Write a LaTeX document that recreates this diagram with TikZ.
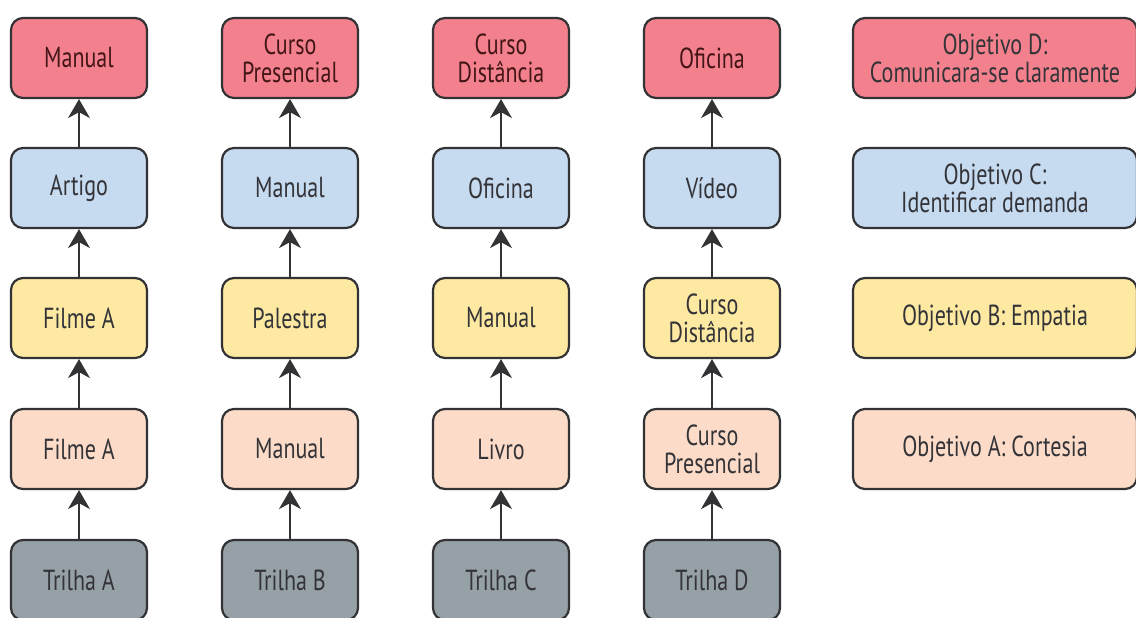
\documentclass[tikz,border=0pt]{standalone}
\usepackage{fontspec}
\setmainfont{PT Sans}[FakeStretch=0.76]
\usepackage{tikz}
\usetikzlibrary{arrows.meta}

\definecolor{redfill}{HTML}{F2818D}
\definecolor{bluefill}{HTML}{C6DAF0}
\definecolor{yellowfill}{HTML}{FDE9A2}
\definecolor{peachfill}{HTML}{FCDCC8}
\definecolor{grayfill}{HTML}{95A0A7}
\definecolor{edge}{HTML}{333336}
\definecolor{ink}{HTML}{333338}

\begin{document}
\begin{tikzpicture}[x=0.5pt,y=-0.5pt,
    box/.style={draw=edge,line width=1.1pt,rounded corners=6pt,
      minimum width=68pt,minimum height=40pt,inner sep=1pt,
      align=center,text=ink,font=\fontsize{14.5}{14}\selectfont},
    goalbox/.style={box,minimum width=142pt},
    redbox/.style={box,fill=redfill,text=ink!70!red!60!black},
    bluebox/.style={box,fill=bluefill},
    yellowbox/.style={box,fill=yellowfill},
    peachbox/.style={box,fill=peachfill},
    graybox/.style={box,fill=grayfill},
    up/.style={-{Stealth[length=9.5pt,width=11pt,inset=3pt]},draw=edge,line width=0.9pt}]
            \useasboundingbox (0,0) rectangle (1136,617);
            % trilha A
            \node (a0) at (79,580) [graybox] {Trilha A};
            \node (a1) at (79,449) [peachbox] {Filme A};
            \node (a2) at (79,318) [yellowbox] {Filme A};
            \node (a3) at (79,188) [bluebox] {Artigo};
            \node (a4) at (79,58) [redbox] {Manual};
            % trilha B
            \node (b0) at (290,580) [graybox] {Trilha B};
            \node (b1) at (290,449) [peachbox] {Manual};
            \node (b2) at (290,318) [yellowbox] {Palestra};
            \node (b3) at (290,188) [bluebox] {Manual};
            \node (b4) at (290,58) [redbox] {Curso\\Presencial};
            % trilha C
            \node (c0) at (501,580) [graybox] {Trilha C};
            \node (c1) at (501,449) [peachbox] {Livro};
            \node (c2) at (501,318) [yellowbox] {Manual};
            \node (c3) at (501,188) [bluebox] {Oficina};
            \node (c4) at (501,58) [redbox] {Curso\\Distância};
            % trilha D
            \node (d0) at (712,580) [graybox] {Trilha D};
            \node (d1) at (712,449) [peachbox] {Curso\\Presencial};
            \node (d2) at (712,318) [yellowbox] {Curso\\Distância};
            \node (d3) at (712,188) [bluebox] {Vídeo};
            \node (d4) at (712,58) [redbox] {Oficina};
            % objetivos
            \node (oa) at (995,449) [peachbox,goalbox] {Objetivo A: Cortesia};
            \node (ob) at (995,318) [yellowbox,goalbox] {Objetivo B: Empatia};
            \node (oc) at (995,188) [bluebox,goalbox] {Objetivo C:\\Identificar demanda};
            \node (od) at (995,58) [redbox,goalbox] {Objetivo D:\\Comunicara-se claramente};
            % setas
            \draw[up] (a0)--(a1);
            \draw[up] (a1)--(a2);
            \draw[up] (a2)--(a3);
            \draw[up] (a3)--(a4);
            \draw[up] (b0)--(b1);
            \draw[up] (b1)--(b2);
            \draw[up] (b2)--(b3);
            \draw[up] (b3)--(b4);
            \draw[up] (c0)--(c1);
            \draw[up] (c1)--(c2);
            \draw[up] (c2)--(c3);
            \draw[up] (c3)--(c4);
            \draw[up] (d0)--(d1);
            \draw[up] (d1)--(d2);
            \draw[up] (d2)--(d3);
            \draw[up] (d3)--(d4);
\end{tikzpicture}
\end{document}
